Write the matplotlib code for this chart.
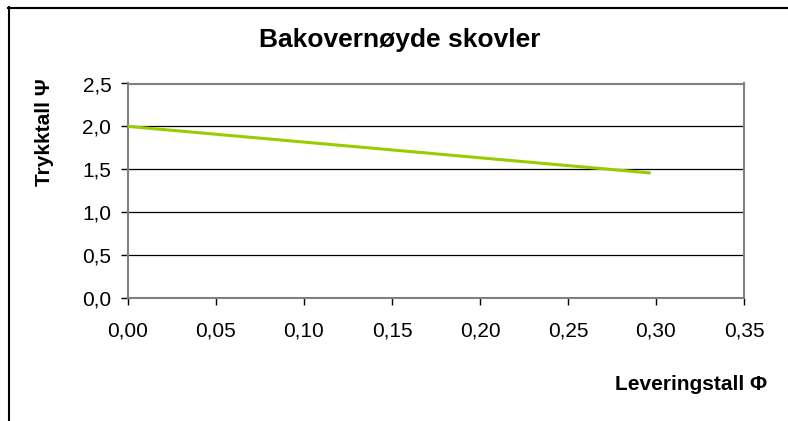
import matplotlib
matplotlib.use("Agg")
import matplotlib.pyplot as plt
from matplotlib.lines import Line2D

plt.rcParams['font.family'] = ['Liberation Sans', 'DejaVu Sans']

# data
phi = [0.0, 0.297]
psi = [2.0, 1.457]
x_ticks = [0.0, 0.05, 0.10, 0.15, 0.20, 0.25, 0.30, 0.35]
x_labels = ["0,00", "0,05", "0,10", "0,15", "0,20", "0,25", "0,30", "0,35"]
y_ticks = [0.0, 0.5, 1.0, 1.5, 2.0, 2.5]
y_labels = ["0,0", "0,5", "1,0", "1,5", "2,0", "2,5"]

W, H = 788, 421
fig = plt.figure(figsize=(W/100, H/100), dpi=100)
ax = fig.add_axes([128/W, 1-298/H, (744-128)/W, (298-83.5)/H])

ax.set_xlim(0, 0.35)
ax.set_ylim(0, 2.5)
ax.set_xticks(x_ticks)
ax.set_xticklabels(x_labels)
ax.set_yticks(y_ticks)
ax.set_yticklabels(y_labels)

ax.yaxis.grid(True, color='black', linewidth=0.9)
ax.set_axisbelow(True)
for s in ax.spines.values():
    s.set_color('#808080')
    s.set_linewidth(1.5)
ax.tick_params(axis='both', direction='out', length=5, width=1, color='black',
               labelsize=15)
ax.tick_params(axis='y', pad=7)
ax.tick_params(axis='x', pad=12)

ax.plot(phi, psi, color='#99CC00', linewidth=2.2, solid_capstyle='butt', zorder=3)

fig.text(400/W, 1-40/H, "Bakovernøyde skovler", ha='center', va='center',
         fontsize=19, fontweight='bold')
fig.text(45/W, 1-132/H, "Trykktall Ψ", ha='center', va='center', rotation=90,
         fontsize=15, fontweight='bold')
fig.text(767/W, 1-385/H, "Leveringstall Φ", ha='right', va='center',
         fontsize=15, fontweight='bold')

# outer chart frame (left and top edges visible)
fig.add_artist(Line2D([8.5/W, 8.5/W], [0, 1-7/H], transform=fig.transFigure,
                      color='black', linewidth=1.5))
fig.add_artist(Line2D([8/W, 1], [1-7.5/H, 1-7.5/H], transform=fig.transFigure,
                      color='black', linewidth=1.5))

fig.savefig("out.png", dpi=100)
